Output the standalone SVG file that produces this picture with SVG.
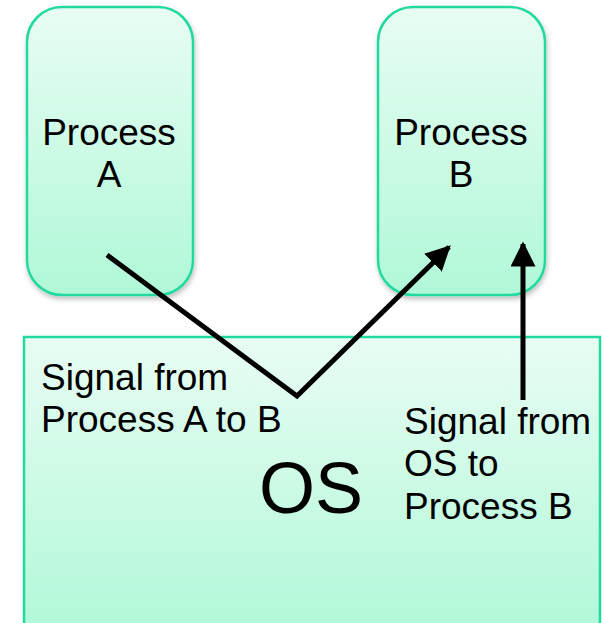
<svg xmlns="http://www.w3.org/2000/svg" width="605" height="623" viewBox="0 0 605 623">
  <defs>
    <linearGradient id="fillG" x1="0" y1="0" x2="0" y2="1">
      <stop offset="0" stop-color="#e8fdf3"/>
      <stop offset="1" stop-color="#b0f8d8"/>
    </linearGradient>
    <filter id="shadow" x="-10%" y="-10%" width="130%" height="130%">
      <feDropShadow dx="1" dy="3" stdDeviation="2.5" flood-color="#000" flood-opacity="0.25"/>
    </filter>
    <marker id="arrow" viewBox="0 0 10 10" refX="9" refY="5" markerWidth="5" markerHeight="5" markerUnits="strokeWidth" orient="auto">
      <path d="M0,0 L10,5 L0,10 z" fill="#000"/>
    </marker>
  </defs>
  <style>
    .box { fill: url(#fillG); stroke: #22d9a0; stroke-width: 2.5; }
    .lbl { font-family: "Liberation Sans", Arial, sans-serif; font-size: 37px; fill: #000; }
    .conn { fill: none; stroke: #000; stroke-width: 5; stroke-linejoin: miter; }
  </style>

  <g id="os">
    <rect class="box" x="24" y="337" width="576" height="300"/>
    <text class="lbl" x="311" y="513" text-anchor="middle" style="font-size:72px">OS</text>
  </g>

  <g id="processA">
    <rect class="box" x="27" y="7" width="166" height="288" rx="35" ry="35" filter="url(#shadow)"/>
    <text class="lbl" text-anchor="middle"><tspan x="109" y="145">Process</tspan><tspan x="109" y="187">A</tspan></text>
  </g>

  <g id="processB">
    <rect class="box" x="378" y="7" width="167" height="288" rx="35" ry="35" filter="url(#shadow)"/>
    <text class="lbl" text-anchor="middle"><tspan x="461" y="145">Process</tspan><tspan x="461" y="187">B</tspan></text>
  </g>

  <g id="connectors">
    <polyline class="conn" points="107,255 297,396 449,247" marker-end="url(#arrow)"/>
    <line class="conn" x1="523" y1="400" x2="523" y2="244" marker-end="url(#arrow)"/>
  </g>

  <g id="labels">
    <text class="lbl"><tspan x="41" y="390">Signal from</tspan><tspan x="41" y="432">Process A to B</tspan></text>
    <text class="lbl"><tspan x="404" y="434">Signal from</tspan><tspan x="404" y="476">OS to</tspan><tspan x="404" y="519">Process B</tspan></text>
  </g>
</svg>
